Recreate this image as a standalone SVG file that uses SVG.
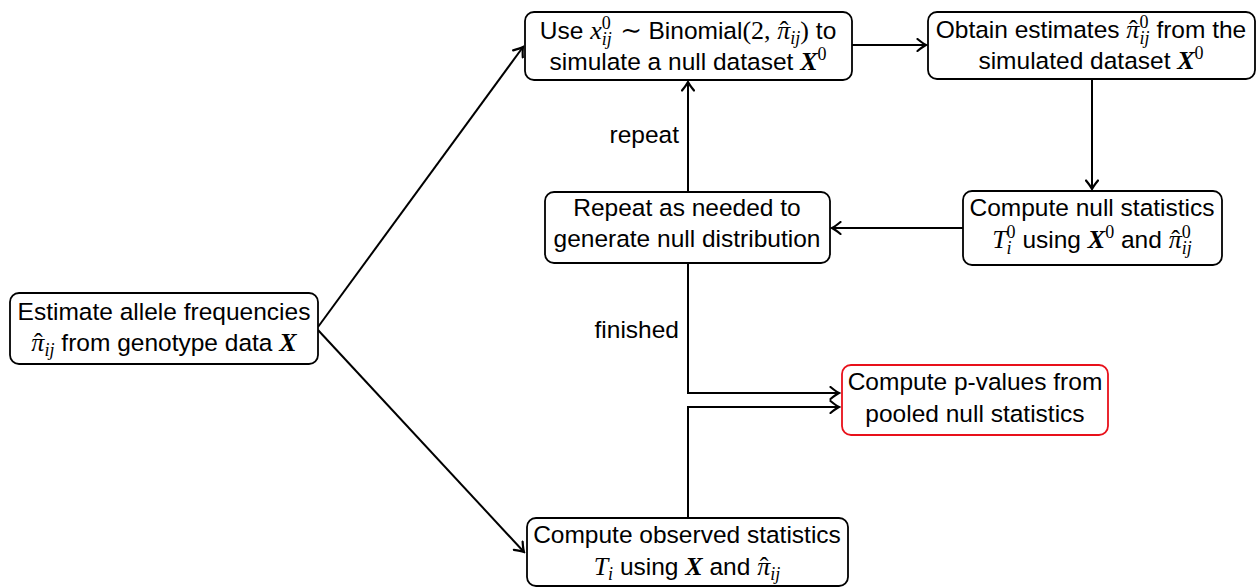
<svg xmlns="http://www.w3.org/2000/svg" width="1257" height="588" viewBox="0 0 1257 588">
<style>
.box{fill:#fff;stroke:#000;stroke-width:1.8}
.red{stroke:#e8101a}
.t{font-family:"Liberation Sans",Arial,sans-serif;font-size:24.5px;fill:#000;text-anchor:middle}
.lbl{font-family:"Liberation Sans",Arial,sans-serif;font-size:24.5px;fill:#000;text-anchor:end}
.m{font-family:"Liberation Serif","DejaVu Serif",serif;font-size:26px}
.mi{font-family:"Liberation Serif","DejaVu Serif",serif;font-style:italic;font-size:26px}
.mb{font-family:"Liberation Serif","DejaVu Serif",serif;font-style:italic;font-weight:bold;font-size:26px}
.s{font-size:18px}
.c{fill:none;stroke:#000;stroke-width:2;marker-end:url(#ah)}
</style>
<defs>
<marker id="ah" markerUnits="userSpaceOnUse" viewBox="-10 -7 12 14" markerWidth="12" markerHeight="14" refX="0" refY="0" orient="auto">
<path d="M-8.5 -6 Q-3 -1.5 0 0 Q-3 1.5 -8.5 6" fill="none" stroke="#000" stroke-width="2.2" stroke-linecap="round"/>
</marker>
</defs>
<g id="connectors">
<path class="c" d="M318 327 L523 47"/>
<path class="c" d="M318 330 L524 552"/>
<path class="c" d="M852 45 L926 45"/>
<path class="c" d="M1092 80 L1092 189"/>
<path class="c" d="M963 228 L832 228"/>
<path class="c" d="M688 192 L688 82"/>
<path class="c" d="M688 263 L688 393 L839 393"/>
<path class="c" d="M688 518 L688 407 L839 407"/>
<text class="lbl" x="679" y="143">repeat</text>
<text class="lbl" x="679" y="338">finished</text>
</g>
<g id="estimate">
<rect class="box" x="10" y="293" width="308" height="71" rx="9"/>
<text class="t" x="164" y="320">Estimate allele frequencies</text>
<text class="t" x="164" y="351"><tspan class="mi">π</tspan><tspan class="m" dx="-10.5">ˆ</tspan><tspan class="mi s" dx="2" dy="5">ij</tspan><tspan dy="-5"> from genotype data </tspan><tspan class="mb">X</tspan></text>
</g>
<g id="simulate">
<rect class="box" x="525" y="12" width="327" height="68" rx="9"/>
<text class="t" x="688" y="39">Use <tspan class="mi">x</tspan><tspan class="m s" dy="-10">0</tspan><tspan class="mi s" dx="-9" dy="16">ij</tspan><tspan class="m" dx="2" dy="-6"> ∼ </tspan>Binomial<tspan class="m">(2, </tspan><tspan class="mi">π</tspan><tspan class="m" dx="-10.5">ˆ</tspan><tspan class="mi s" dx="2" dy="5">ij</tspan><tspan class="m" dy="-5">)</tspan> to</text>
<text class="t" x="688" y="70">simulate a null dataset <tspan class="mb">X</tspan><tspan class="m s" dy="-10">0</tspan></text>
</g>
<g id="obtain">
<rect class="box" x="928" y="12" width="327" height="67" rx="9"/>
<text class="t" x="1091" y="38">Obtain estimates <tspan class="mi">π</tspan><tspan class="m" dx="-10.5">ˆ</tspan><tspan class="m s" dx="2" dy="-10">0</tspan><tspan class="mi s" dx="-9" dy="16">ij</tspan><tspan dy="-6"> from the</tspan></text>
<text class="t" x="1091" y="69">simulated dataset <tspan class="mb">X</tspan><tspan class="m s" dy="-10">0</tspan></text>
</g>
<g id="repeat">
<rect class="box" x="545" y="192" width="285" height="71" rx="9"/>
<text class="t" x="687" y="216">Repeat as needed to</text>
<text class="t" x="687" y="247">generate null distribution</text>
</g>
<g id="nullstats">
<rect class="box" x="963" y="191" width="259" height="74" rx="9"/>
<text class="t" x="1092" y="216">Compute null statistics</text>
<text class="t" x="1092" y="248"><tspan class="mi">T</tspan><tspan class="m s" dy="-10">0</tspan><tspan class="mi s" dx="-9" dy="16">i</tspan><tspan dx="4" dy="-6"> using </tspan><tspan class="mb">X</tspan><tspan class="m s" dy="-10">0</tspan><tspan dy="10"> and </tspan><tspan class="mi">π</tspan><tspan class="m" dx="-10.5">ˆ</tspan><tspan class="m s" dx="2" dy="-10">0</tspan><tspan class="mi s" dx="-9" dy="16">ij</tspan></text>
</g>
<g id="observed">
<rect class="box" x="527" y="518" width="321" height="68" rx="9"/>
<text class="t" x="687" y="543">Compute observed statistics</text>
<text class="t" x="687" y="575"><tspan class="mi">T</tspan><tspan class="mi s" dy="5">i</tspan><tspan dy="-5"> using </tspan><tspan class="mb">X</tspan> and <tspan class="mi">π</tspan><tspan class="m" dx="-10.5">ˆ</tspan><tspan class="mi s" dx="2" dy="5">ij</tspan></text>
</g>
<g id="pvalues">
<rect class="box red" x="842" y="365" width="266" height="70" rx="9"/>
<text class="t" x="975" y="390">Compute p-values from</text>
<text class="t" x="975" y="422">pooled null statistics</text>
</g>
</svg>
